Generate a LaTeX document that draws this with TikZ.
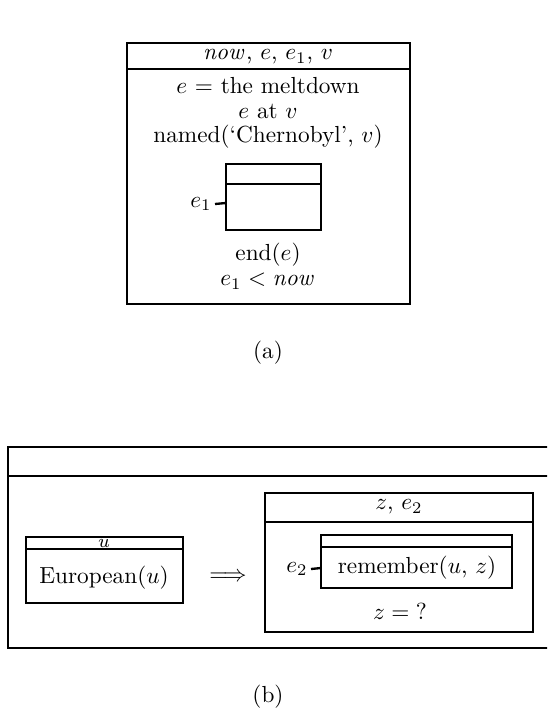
\documentclass[tikz,border=0pt]{standalone}
\usepackage{amsmath}
\begin{document}
\begin{tikzpicture}[x=0.43pt,y=-0.43pt,line width=1pt]
  \useasboundingbox (0,0) rectangle (547,723);
  \clip (0,0) rectangle (547,723);
  % (a) the outer box with its header
  \draw (127,43) rectangle (410,304);
  \draw (127,69) -- (410,69);
  \node (hdA) at (268,57) {$\mathit{now}$, $e$, $e_1$, $v$};
  \node (c1) at (268,86) {$e$ = the meltdown};
  \node (c2) at (268,111) {$e$ at $v$};
  \node (c3) at (268,137) {named(`Chernobyl', $v$)};
  % empty box for e_1
  \draw (226,164) rectangle (321,230);
  \draw (226,184) -- (321,184);
  \node[anchor=east, inner sep=1pt] (e1) at (215,204) {$e_1$};
  \coordinate (sA) at (226,203);
  \draw (e1.east) -- (sA);
  \node (c4) at (268,255) {end($e$)};
  \node (c5) at (268,281) {$e_1 < \mathit{now}$};
  \node (capA) at (268,353) {(a)};
  % (b) the outer box runs off to the right
  \draw (560,447) -- (8,447) -- (8,648) -- (560,648);
  \draw (8,476) -- (560,476);
  % antecedent box
  \draw (26,537) rectangle (183,603);
  \draw (26,549) -- (183,549);
  \node[anchor=base, inner sep=0pt, font=\footnotesize] (hdU) at (104,547) {$u$};
  \node (eu) at (104,578) {European($u$)};
  \node (impl) at (228,577) {$\Longrightarrow$};
  % consequent box
  \draw (265,493) rectangle (533,632);
  \draw (265,522) -- (533,522);
  \node (hdZ) at (399,507) {$z$, $e_2$};
  \draw (321,535) rectangle (512,588);
  \draw (321,547) -- (512,547);
  \node (rem) at (417,568) {remember($u$, $z$)};
  \node[anchor=east, inner sep=1pt] (e2) at (311,569) {$e_2$};
  \coordinate (sB) at (321,568);
  \draw (e2.east) -- (sB);
  \node (zq) at (400,611) {$z = {}$?};
  \node (capB) at (268,697) {(b)};
\end{tikzpicture}
\end{document}
